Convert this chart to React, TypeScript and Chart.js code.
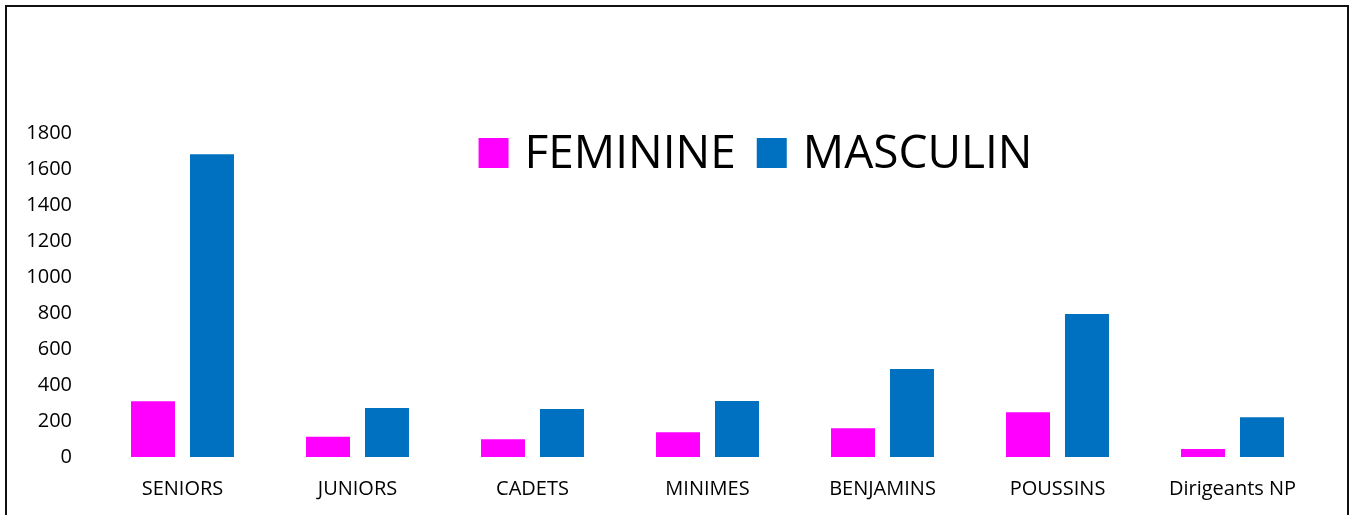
import React, { useEffect, useRef } from "react";
import { Chart, registerables } from "chart.js";

Chart.register(...registerables);

const categories = ["SENIORS", "JUNIORS", "CADETS", "MINIMES", "BENJAMINS", "POUSSINS", "Dirigeants NP"];
const feminine = [310, 112, 99, 137, 160, 248, 45];
const masculin = [1682, 272, 266, 311, 489, 794, 221];
const seriesLabels = ["FEMININE", "MASCULIN"];
const seriesColors = ["#FF00FF", "#0070C0"];
const yMax = 1800;
const yStep = 200;

const legendPlugin = {
  id: "customLegend",
  afterDraw(chart: any) {
    const { ctx, chartArea } = chart;
    const boxSize = 30;
    const boxGap = 16;
    const itemGap = 21;
    ctx.save();
    ctx.font = "46px 'Open Sans'";
    const items = chart.data.datasets.map((ds: any) => ({
      text: ds.label,
      color: ds.backgroundColor,
      w: ctx.measureText(ds.label).width,
    }));
    let total = 0;
    items.forEach((it: any, i: number) => {
      total += boxSize + boxGap + it.w + (i < items.length - 1 ? itemGap : 0);
    });
    const center = chartArea.left + (chartArea.right - chartArea.left) * 0.5 + 48;
    let x = center - total / 2;
    const boxTop = chartArea.top + 5;
    const baseline = boxTop + boxSize;
    ctx.textBaseline = "alphabetic";
    ctx.textAlign = "left";
    items.forEach((it: any) => {
      ctx.fillStyle = it.color;
      ctx.fillRect(x, boxTop, boxSize, boxSize);
      x += boxSize + boxGap;
      ctx.fillStyle = "#000";
      ctx.fillText(it.text, x, baseline);
      x += it.w + itemGap;
    });
    ctx.restore();
  },
};

export default function App() {
  const ref = useRef<HTMLCanvasElement>(null);
  useEffect(() => {
    if (!ref.current) return;
    const chart = new Chart(ref.current, {
      type: "bar",
      data: {
        labels: categories,
        datasets: [
          {
            label: seriesLabels[0],
            data: feminine,
            backgroundColor: seriesColors[0],
            categoryPercentage: 0.674,
            barPercentage: 0.746,
          },
          {
            label: seriesLabels[1],
            data: masculin,
            backgroundColor: seriesColors[1],
            categoryPercentage: 0.674,
            barPercentage: 0.746,
          },
        ],
      },
      options: {
        animation: false,
        responsive: true,
        maintainAspectRatio: false,
        layout: { padding: { left: 0, right: 27, top: 126, bottom: 0 } },
        plugins: {
          legend: { display: false },
          tooltip: { enabled: false },
          title: { display: false },
        },
        scales: {
          x: {
            grid: { display: false, drawTicks: false },
            border: { display: false },
            ticks: {
              color: "#000",
              font: { family: "'Open Sans'", size: 20 },
              padding: 20,
              maxRotation: 0,
              autoSkip: false,
            },
            afterFit: (scale: any) => {
              scale.height = 58;
            },
          },
          y: {
            min: 0,
            max: yMax,
            grid: { display: false, drawTicks: false },
            border: { display: false },
            ticks: {
              stepSize: yStep,
              color: "#000",
              font: { family: "'Open Sans'", size: 20 },
              padding: 23,
              callback: (value: any) => String(value),
            },
            afterFit: (scale: any) => {
              scale.width = 88;
            },
          },
        },
      },
      plugins: [legendPlugin],
    });
    return () => chart.destroy();
  }, []);

  return (
    <div
      style={{
        position: "fixed",
        left: 5,
        top: 5,
        width: 1344,
        height: 600,
        border: "2px solid #111",
        boxSizing: "border-box",
        background: "#fff",
      }}
    >
      <div style={{ position: "relative", width: 1340, height: 508 }}>
        <canvas ref={ref} />
      </div>
    </div>
  );
}
